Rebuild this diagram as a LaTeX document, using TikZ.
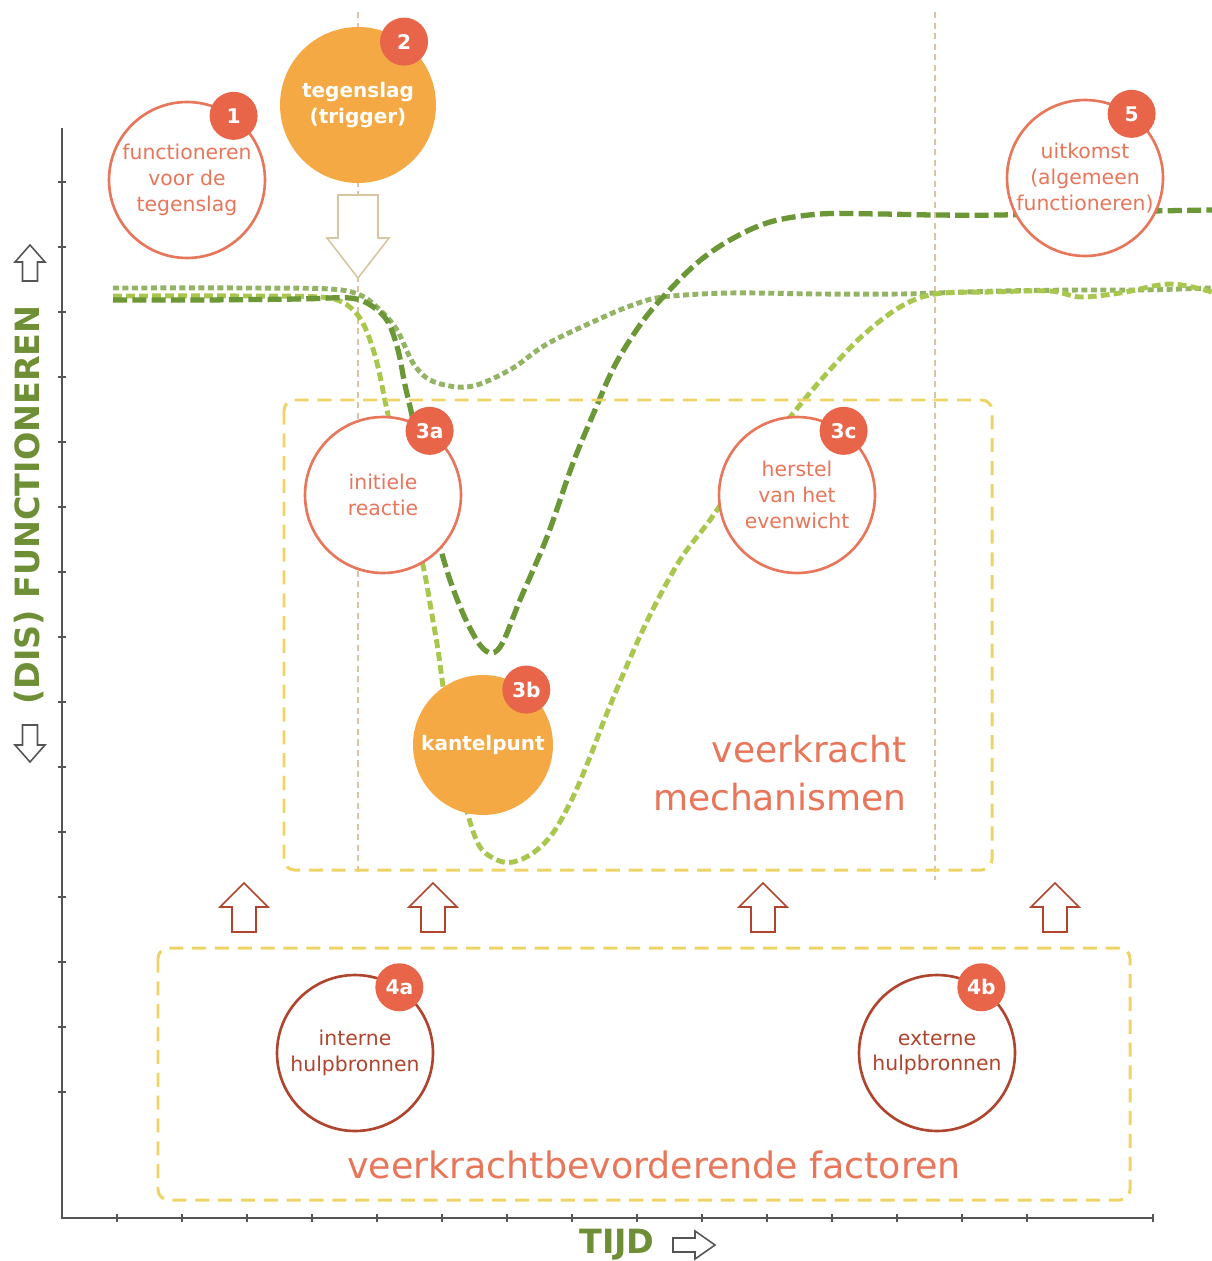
\documentclass[tikz,border=0pt]{standalone}
\usepackage{fontspec}
\setmainfont{DejaVu Sans}
\usetikzlibrary{positioning}

\definecolor{coral}{HTML}{E8765B}
\definecolor{badgered}{HTML}{E8654A}
\definecolor{amber}{HTML}{F4A944}
\definecolor{brick}{HTML}{B0452F}
\definecolor{zoneyellow}{HTML}{EED466}
\definecolor{tan}{HTML}{D8C6A3}
\definecolor{axisgray}{HTML}{555555}
\definecolor{labelgreen}{HTML}{6E8F35}
\definecolor{darkcurve}{HTML}{6B9737}
\definecolor{sagecurve}{HTML}{94B465}
\definecolor{limecurve}{HTML}{A9C74F}

\tikzset{
  pics/hollow/.style args={#1/#2/#3/#4}{code={
    % #1 length, #2 head length, #3 head half width, #4 shaft half width
    \draw[pic actions, line width=0.9pt, fill=white, line join=miter]
      (-#4,0) -- (-#4,{-(#1-#2)}) -- (-#3,{-(#1-#2)}) -- (0,-#1)
      -- (#3,{-(#1-#2)}) -- (#4,{-(#1-#2)}) -- (#4,0) -- cycle;
  }}
}

\begin{document}
\begin{tikzpicture}[
    x=0.02cm, y=-0.02cm,
    stage/.style={circle, draw=coral, line width=1.5pt, fill=white, minimum size=3.12cm, inner sep=0pt, align=center, text=coral, font=\fontsize{11.6}{14.7}\selectfont},
    trigger/.style={circle, fill=amber, minimum size=3.12cm, inner sep=0pt, align=center, text=white, font=\fontsize{11.4}{15}\selectfont\bfseries},
    resource/.style={stage, draw=brick, text=brick},
    badge/.style={circle, fill=badgered, minimum size=0.96cm, inner sep=0pt, text=white, font=\fontsize{11.5}{11.5}\selectfont\bfseries},
    zone/.style={draw=zoneyellow, line width=1.7pt, dash pattern=on 8pt off 5pt, rounded corners=6pt},
    zonelabel/.style={text=coral, align=right, inner sep=0pt},
    timeline/.style={draw=tan, line width=0.9pt, dash pattern=on 3.5pt off 2.5pt},
    axis/.style={draw=axisgray, line width=0.8pt},
    axislabel/.style={text=labelgreen, font=\fontsize{19}{19}\selectfont\bfseries},
    darkline/.style={draw=darkcurve, line width=3pt, dash pattern=on 8pt off 3pt},
    sageline/.style={draw=sagecurve, line width=2.8pt, dash pattern=on 3.4pt off 2pt},
    limeline/.style={draw=limecurve, line width=2.8pt, dash pattern=on 5pt off 2.4pt}
]
\useasboundingbox (0,0) rectangle (1212,1261);
\fill[white] (0,0) rectangle (1212,1261);

% axes
\draw[axis] (62,128) -- (62,1218) -- (1153,1218);
\foreach \y in {182,247,...,1153}
  \draw[axis] (58,\y) -- (66,\y);
\foreach \x in {117,182,...,1090,1153}
  \draw[axis] (\x,1214) -- (\x,1222);
\node[axislabel, rotate=90] (ylabel) at (29,505) {(DIS) FUNCTIONEREN};
\node[axislabel] (xlabel) at (617,1245) {TIJD};
\pic[draw=axisgray] (upgood) at (30,281) {hollow=36/17/15/7.5};
\pic[draw=axisgray, rotate=180] (downbad) at (30,725) {hollow=37/17/15/7.5};
\pic[draw=axisgray, rotate=-90] (timearrow) at (673,1245) {hollow=42/20/14/7};

% moments in time
\draw[timeline] (358,12) -- (358,872);
\draw[timeline] (935,12) -- (935,880);

% functioning curves
\draw[sageline] plot[smooth, tension=0.55] coordinates {(113,288) (250,288) (330,289) (360,295) (380,310) (397,330) (413,363) (430,380) (457,387) (480,384) (513,368) (547,344) (597,320) (630,306) (663,297) (730,293) (820,294) (900,294) (935,293) (1000,291) (1080,290) (1140,290) (1212,288)};
\draw[limeline] plot[smooth, tension=0.55] coordinates {(113,296) (250,296) (320,297) (342,302) (357,314) (367,332) (377,363) (387,410) (400,470) (415,530) (425,575) (432,615) (438,650) (445,700) (455,760) (468,815) (480,847) (497,860) (513,862) (533,853) (553,833) (573,797) (590,757) (605,718) (625,670) (650,615) (680,560) (710,520) (745,470) (790,417) (820,381) (860,338) (900,307) (935,294) (990,292) (1050,291) (1080,297) (1120,293) (1170,284) (1212,292)};
\draw[darkline] plot[smooth, tension=0.55] coordinates {(113,300) (200,300) (300,299) (350,298) (372,306) (388,322) (398,350) (405,385) (413,420) (425,480) (437,535) (450,580) (465,618) (480,645) (492,653) (503,642) (520,600) (547,537) (573,463) (595,410) (615,365) (640,325) (663,297) (697,263) (730,240) (770,222) (820,214) (880,214) (935,215) (1000,215) (1100,212) (1212,210)};

% zones
\draw[zone] (284,400) rectangle (992,870);
\draw[zone] (158,948) rectangle (1130,1200);
\node[zonelabel, anchor=east, font=\fontsize{20.5}{27}\selectfont] (mechlabel) at (907,773) {veerkracht\\mechanismen};
\node[zonelabel, font=\fontsize{20.7}{20.7}\selectfont] (factorlabel) at (654,1165) {veerkrachtbevorderende factoren};

% resources push up
\foreach \x [count=\i] in {244,433,763,1055}
  \pic[draw=brick] (push\i) at (\x,932) {hollow=49/24/24/12};

% trigger arrow
\pic[draw=tan, rotate=180] (hit) at (358,195) {hollow=83/40/31/20};

% stages
\node[stage] (before) at (187,180) {functioneren\\voor de\\tegenslag};
\node[trigger] (trigger) at (358,105) {tegenslag\\(trigger)};
\node[stage] (outcome) at (1085,178) {uitkomst\\(algemeen\\functioneren)};
\node[stage] (initial) at (383,495) {initiele\\reactie};
\node[trigger, minimum size=2.8cm] (tipping) at (483,745) {kantelpunt};
\node[stage] (recovery) at (797,495) {herstel\\van het\\evenwicht};
\node[resource] (internal) at (355,1053) {interne\\hulpbronnen};
\node[resource] (external) at (937,1053) {externe\\hulpbronnen};

% numbers
\node[badge] at (before.54) {1};
\node[badge] at (trigger.54) {2};
\node[badge] at (outcome.54) {5};
\node[badge] at (initial.54) {3a};
\node[badge] at (tipping.52) {3b};
\node[badge] at (recovery.54) {3c};
\node[badge] at (internal.56) {4a};
\node[badge] at (external.56) {4b};
\end{tikzpicture}
\end{document}
